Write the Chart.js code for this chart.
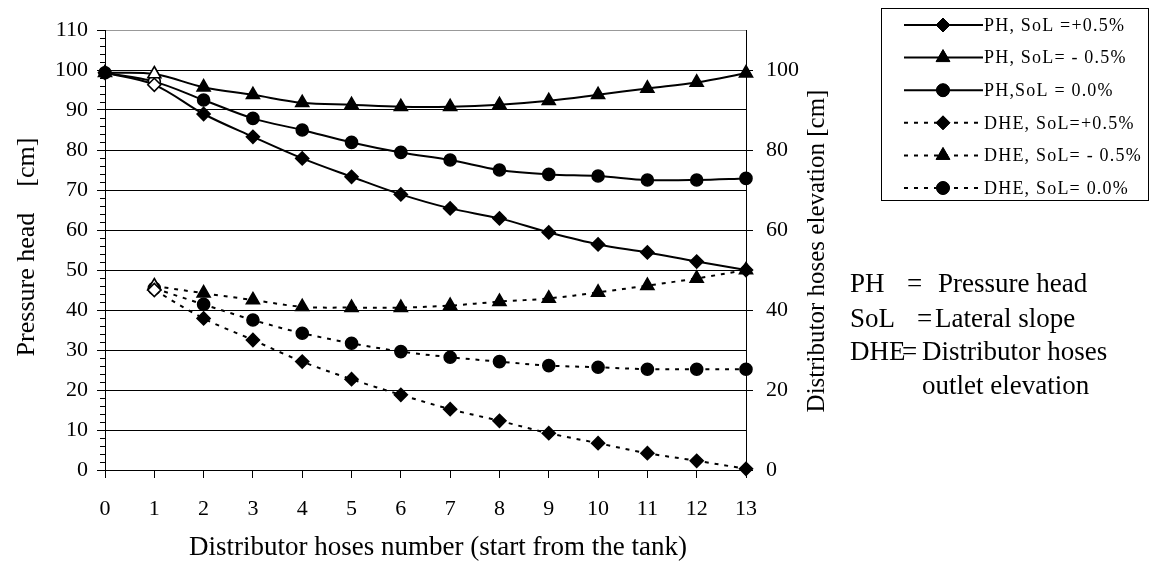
<!DOCTYPE html>
<html>
<head>
<meta charset="utf-8">
<script src="https://cdn.jsdelivr.net/npm/chart.js@4.4.1/dist/chart.umd.min.js"></script>
<style>
  html, body { margin: 0; padding: 0; background: #fff; }
  #wrap { width: 1152px; height: 562px; position: relative; }
</style>
</head>
<body>
<div id="wrap"><canvas id="c"></canvas></div>
<script>
// hose numbers along the lateral, 0 = tank
const hoses = [0, 1, 2, 3, 4, 5, 6, 7, 8, 9, 10, 11, 12, 13];

// pressure head [cm]
const phPlus  = [99.3, 96.3, 89.0, 83.3, 77.9, 73.3, 68.9, 65.4, 62.9, 59.4, 56.4, 54.4, 52.1, 50.0];
const phMinus = [99.3, 99.0, 95.7, 93.8, 91.8, 91.3, 90.8, 90.8, 91.3, 92.3, 93.8, 95.4, 96.9, 99.2];
const phZero  = [99.3, 97.1, 92.5, 87.9, 85.0, 81.9, 79.4, 77.5, 75.0, 73.9, 73.5, 72.5, 72.5, 72.9];

// distributor hoses outlet elevation [cm] (no hose at the tank)
const dhePlus  = [null, 45.0, 37.9, 32.5, 27.1, 22.7, 18.8, 15.2, 12.3, 9.2, 6.7, 4.2, 2.3, 0.3];
const dheMinus = [null, 46.0, 44.2, 42.5, 40.8, 40.6, 40.6, 41.1, 42.1, 42.9, 44.4, 46.1, 47.9, 50.0];
const dheZero  = [null, 45.4, 41.4, 37.5, 34.2, 31.7, 29.6, 28.2, 27.1, 26.1, 25.7, 25.2, 25.2, 25.2];

const rightTicks = [0, 20, 40, 60, 80, 100];

const seriesLabels = [
  'PH, SoL =+0.5%', 'PH, SoL= - 0.5%', 'PH,SoL = 0.0%',
  'DHE, SoL=+0.5%', 'DHE, SoL= - 0.5%', 'DHE, SoL= 0.0%'
];

const titleX  = 'Distributor hoses number (start from the tank)';
const titleY  = 'Pressure head    [cm]';
const titleY2 = 'Distributor hoses elevation [cm]';

const notes = [
  ['PH', '=', 'Pressure head'],
  ['SoL', '=', 'Lateral slope'],
  ['DHE', '=', 'Distributor hoses'],
  ['', '', 'outlet elevation'],
];

const SERIF = '"Liberation Serif", "Times New Roman", serif';
const DASH = [4, 6];

function pts(arr) { return arr.map((v, i) => ({ x: hoses[i], y: v })); }
// markers at hose 1 come out hollow in the original
const fills = hoses.map(h => h === 1 ? '#fff' : '#000');

const styles = [
  { shape: 'rectRot',  r: 6.5, dash: [] },
  { shape: 'triangle', r: 7.5, dash: [] },
  { shape: 'circle',   r: 6,   dash: [] },
  { shape: 'rectRot',  r: 6.5, dash: DASH },
  { shape: 'triangle', r: 7.5, dash: DASH },
  { shape: 'circle',   r: 6,   dash: DASH },
];

const dataSets = [phPlus, phMinus, phZero, dhePlus, dheMinus, dheZero].map((arr, i) => ({
  label: seriesLabels[i],
  data: pts(arr),
  yAxisID: i < 3 ? 'y' : 'y2',
  borderColor: '#000',
  borderWidth: 2,
  borderDash: styles[i].dash,
  tension: 0.35,
  pointStyle: styles[i].shape,
  pointRadius: styles[i].r,
  pointBackgroundColor: fills,
  pointBorderColor: '#000',
  pointBorderWidth: 1.6,
  clip: false,
  spanGaps: false,
}));

const extras = {
  id: 'extras',
  afterDraw(chart) {
    const ctx = chart.ctx;
    const a = chart.chartArea;
    const y = chart.scales.y, y2 = chart.scales.y2;
    ctx.save();
    ctx.strokeStyle = '#000';
    ctx.lineWidth = 1;

    // minor ticks on the left axis
    ctx.beginPath();
    for (let v = 0; v <= 110; v += 2) {
      if (v % 10 === 0) continue;
      const py = Math.round(y.getPixelForValue(v)) + 0.5;
      ctx.moveTo(a.left - 5, py); ctx.lineTo(a.left, py);
    }
    // inner half of the right-axis ticks
    rightTicks.forEach(v => {
      const py = Math.round(y2.getPixelForValue(v)) + 0.5;
      ctx.moveTo(a.right - 7, py); ctx.lineTo(a.right, py);
    });
    ctx.stroke();

    // axis titles
    ctx.fillStyle = '#000';
    ctx.textAlign = 'center';
    ctx.textBaseline = 'middle';
    ctx.font = '27px ' + SERIF;
    ctx.fillText(titleX, 438, 548);

    ctx.font = '26px ' + SERIF;
    ctx.save();
    ctx.translate(27, 247);
    ctx.rotate(-Math.PI / 2);
    ctx.fillText(titleY, 0, 0);
    ctx.restore();
    ctx.font = '25px ' + SERIF;
    ctx.save();
    ctx.translate(817, 251);
    ctx.rotate(-Math.PI / 2);
    ctx.fillText(titleY2, 0, 0);
    ctx.restore();

    // legend box
    ctx.lineWidth = 1;
    ctx.strokeRect(881.5, 8.5, 267, 192);
    ctx.font = '18px ' + SERIF;
    ctx.textAlign = 'left';
    ctx.letterSpacing = '1.2px';
    styles.forEach((s, i) => {
      const ly = 25 + i * 32.6;
      ctx.save();
      ctx.lineWidth = 2;
      ctx.setLineDash(s.dash);
      ctx.beginPath();
      ctx.moveTo(904, ly); ctx.lineTo(983, ly);
      ctx.stroke();
      ctx.restore();
      ctx.save();
      ctx.fillStyle = '#000';
      Chart.helpers.drawPoint(ctx, { pointStyle: s.shape, radius: s.r + 0.5, borderWidth: 1 }, 943, ly);
      ctx.fill();
      ctx.restore();
      ctx.fillText(seriesLabels[i], 984, ly + 1);
    });

    // abbreviations
    ctx.letterSpacing = '0px';
    ctx.font = '27px ' + SERIF;
    const rows = [285, 320, 353, 387];
    const cols = [[850, 907, 938], [850, 917, 935], [850, 902, 922], [850, 902, 922]];
    notes.forEach((n, i) => {
      n.forEach((t, j) => { if (t) ctx.fillText(t, cols[i][j], rows[i]); });
    });
    ctx.restore();
  }
};

new Chart(document.getElementById('c'), {
  type: 'line',
  data: { datasets: dataSets },
  options: {
    responsive: true,
    maintainAspectRatio: false,
    animation: false,
    layout: { padding: { top: 30, right: 326, bottom: 0, left: 0 } },
    plugins: { legend: { display: false }, tooltip: { enabled: false } },
    scales: {
      x: {
        type: 'linear', min: 0, max: 13,
        afterFit: s => { s.height = 92; },
        ticks: { stepSize: 1, color: '#000', padding: 18, font: { family: SERIF, size: 22 } },
        grid: { drawOnChartArea: false, color: '#000', tickLength: 8, tickColor: '#000' },
        border: { color: '#000', width: 1 },
      },
      y: {
        position: 'left', min: 0, max: 110,
        afterFit: s => { s.width = 105; },
        ticks: { stepSize: 10, color: '#000', padding: 9, font: { family: SERIF, size: 22 } },
        grid: {
          color: ctx => ctx.tick && ctx.tick.value === 110 ? '#999' : '#000',
          tickColor: '#000', lineWidth: 1, tickLength: 8
        },
        border: { color: '#000', width: 1 },
      },
      y2: {
        position: 'right', min: 0, max: 110,
        afterFit: s => { s.width = 80; },
        afterBuildTicks: s => { s.ticks = rightTicks.map(v => ({ value: v })); },
        ticks: { color: '#000', padding: 13, font: { family: SERIF, size: 22 } },
        grid: { drawOnChartArea: false, color: '#000', tickLength: 7 },
        border: { color: '#000', width: 1 },
      },
    },
  },
  plugins: [extras],
});
</script>
</body>
</html>
